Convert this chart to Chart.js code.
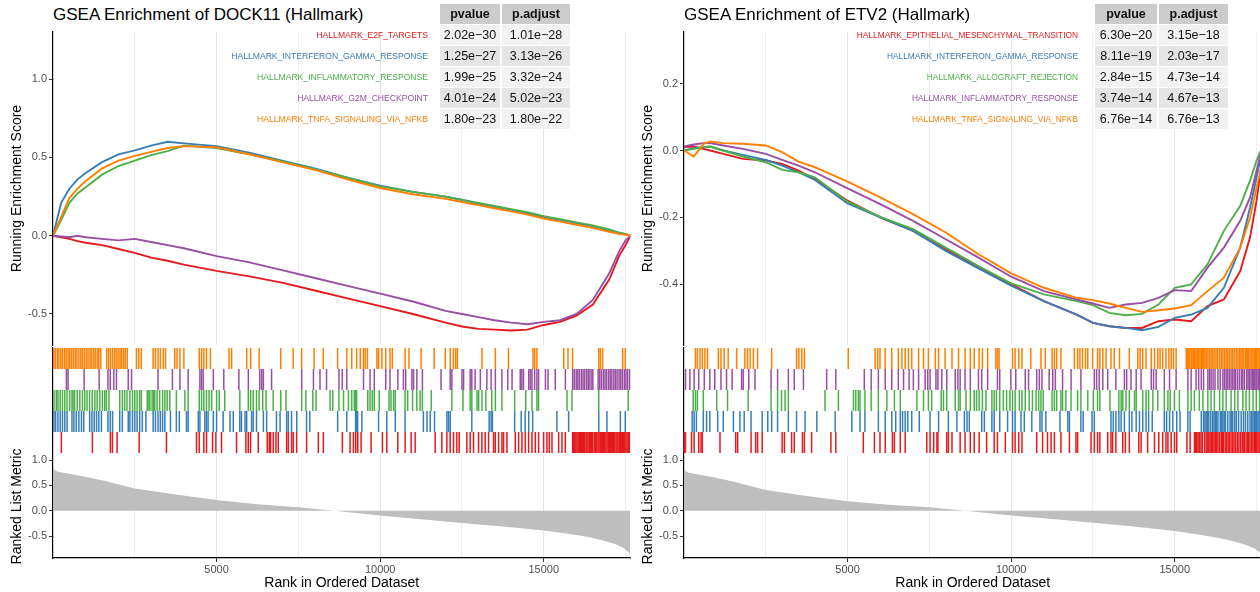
<!DOCTYPE html>
<html><head><meta charset="utf-8">
<script src="https://cdn.jsdelivr.net/npm/chart.js@4.4.1/dist/chart.umd.min.js"></script>
<style>
html,body{margin:0;padding:0;background:#fff;overflow:hidden;width:1260px;height:592px;}
body{position:relative;font-family:"Liberation Sans",Arial,sans-serif;}
.panel{position:absolute;top:0;width:632px;height:592px;}
.panel canvas{position:absolute;left:0;z-index:1;}
.ptitle{position:absolute;left:53px;top:5px;font-size:17px;color:#000;white-space:nowrap;line-height:20px;z-index:5;}
.cell{position:absolute;height:20px;line-height:20px;text-align:center;font-size:12.5px;color:#111;z-index:5;}
.hdr{background:#CCCCCC;font-weight:bold;}
.setlab{position:absolute;line-height:20px;text-align:right;white-space:nowrap;z-index:5;}
</style>
</head><body>
<div class="panel" id="pL" style="left:0px"></div>
<div class="panel" id="pR" style="left:631px"></div>
<script>
// ---------- shared ----------
const setColors = ['#E41A1C','#377EB8','#4DAF4A','#984EA3','#FF7F00'];
const xGridTicks = [2500, 5000, 7500, 10000, 12500, 15000, 17500];
const metricTicks = [-0.5, 0, 0.5, 1.0];

// ---------- LEFT PANEL (DOCK11) ----------
const leftTitle = 'GSEA Enrichment of DOCK11 (Hallmark)';
const leftSets = ['HALLMARK_E2F_TARGETS','HALLMARK_INTERFERON_GAMMA_RESPONSE','HALLMARK_INFLAMMATORY_RESPONSE','HALLMARK_G2M_CHECKPOINT','HALLMARK_TNFA_SIGNALING_VIA_NFKB'];
const leftPvalue = ['2.02e\u221230','1.25e\u221227','1.99e\u221225','4.01e\u221224','1.80e\u221223'];
const leftPadjust = ['1.01e\u221228','3.13e\u221226','3.32e\u221224','5.02e\u221223','1.80e\u221222'];
const leftEsTicks = [-0.5, 0, 0.5, 1.0];
const leftRanks = [0,250,500,750,1000,1500,2000,2500,3000,3500,4000,5000,6000,7000,8000,9000,10000,11000,12000,12500,13000,13500,14000,14500,15000,15500,16000,16500,17000,17300,17500,17650];
const leftEsE2F = [0,-0.01,-0.02,-0.035,-0.045,-0.06,-0.085,-0.11,-0.14,-0.16,-0.185,-0.225,-0.26,-0.30,-0.35,-0.40,-0.45,-0.50,-0.555,-0.58,-0.595,-0.60,-0.605,-0.60,-0.57,-0.55,-0.51,-0.44,-0.28,-0.13,-0.06,0];
const leftEsIFNG = [0,0.21,0.30,0.36,0.40,0.47,0.52,0.545,0.575,0.60,0.59,0.572,0.53,0.48,0.43,0.37,0.32,0.28,0.25,0.228,0.205,0.185,0.165,0.143,0.121,0.10,0.08,0.06,0.035,0.02,0.01,0];
const leftEsInflam = [0,0.10,0.21,0.27,0.31,0.39,0.445,0.48,0.515,0.54,0.575,0.56,0.52,0.475,0.425,0.37,0.315,0.28,0.25,0.23,0.21,0.19,0.17,0.15,0.125,0.105,0.085,0.065,0.04,0.02,0.01,0];
const leftEsG2M = [0,-0.005,-0.01,0.0,-0.01,-0.02,-0.03,-0.02,-0.04,-0.06,-0.08,-0.13,-0.17,-0.22,-0.27,-0.32,-0.37,-0.42,-0.48,-0.50,-0.52,-0.54,-0.555,-0.565,-0.55,-0.54,-0.50,-0.41,-0.24,-0.10,-0.03,0];
const leftEsTNFA = [0,0.12,0.24,0.30,0.35,0.43,0.48,0.51,0.535,0.56,0.572,0.565,0.52,0.47,0.42,0.36,0.305,0.265,0.235,0.215,0.195,0.175,0.155,0.135,0.11,0.09,0.07,0.05,0.025,0.012,0.005,0];
const leftHitsE2F = [255,1204,1754,1816,1958,2632,3468,4386,4468,4610,4692,4876,4978,5151,5610,5896,5967,6038,6273,6548,6610,6650,6732,6814,6885,7140,7191,7293,7344,7446,7752,8109,8262,8844,9079,9181,9252,9314,9416,9722,10068,10201,10538,10762,10946,11068,11680,11884,12037,12139,12241,12343,12414,12649,12751,12853,13006,13108,13210,13312,13465,13516,13618,13720,13771,13873,14128,14230,14332,14434,14536,14638,14740,14842,14995,15097,15168,15250,15454,15556,15658,15882,15910,15944,15980,16015,16050,16086,16120,16148,16180,16219,16250,16290,16320,16352,16390,16423,16460,16494,16540,16576,16620,16658,16690,16729,16760,16800,16830,16862,16900,16933,16970,17004,17040,17066,17100,17137,17170,17208,17240,17270,17310,17341,17380,17412,17440,17474,17510,17545,17580,17616];
const leftHitsIFNG = [30,80,150,220,290,360,430,580,640,710,790,870,940,1120,1190,1260,1330,1400,1480,1680,1750,1820,2040,2120,2300,2350,2430,2500,2570,2650,2730,2840,3060,3130,3210,3280,3350,3420,3590,3770,3860,4080,4130,4440,4490,4640,4690,4740,4900,5000,5200,5410,5510,5710,5760,5870,5920,6070,6120,6220,6430,6530,6830,6940,7140,7190,7290,7450,7750,7850,8700,8980,9250,9280,9310,9440,9950,10200,10460,10760,11320,11430,11530,11660,12040,12090,12140,12800,13330,13390,13430,14110,14310,14430,14540,14660,15400,15760,16680,16930,17340,17490];
const leftHitsInflam = [30,100,150,220,290,360,430,510,580,610,660,740,820,900,970,1040,1120,1200,1280,1350,1430,1510,1580,1630,1710,2040,2120,2190,2260,2350,2430,2500,2570,2650,2700,2880,2930,2960,3030,3080,3110,3180,3260,3350,3420,3490,3570,3770,4030,4130,4470,4540,4610,4690,4770,4850,5000,5080,5250,5710,5970,6040,6120,6220,6300,6410,6510,6730,6960,7120,7600,7730,7940,8040,8470,8550,8740,8880,9030,9130,9210,9250,9280,9620,9690,9760,9820,9970,10270,10330,10410,10460,10760,10840,10990,11120,11220,11290,11560,12190,12530,12750,12800,12960,13010,13110,13230,13410,13520,13720,14110,14450,14640,14790,14840,15710,15860,16680,17580];
const leftHitsG2M = [410,460,950,1410,1680,1750,1860,1940,2300,2400,3210,3650,3880,4130,4490,4540,4590,4900,5220,5680,5970,6320,6380,6430,6680,7600,7960,8160,8360,8740,8840,8980,9490,9690,9820,10170,10300,10540,10710,10780,10970,11020,11120,11290,11860,12140,12190,12500,12550,12750,12800,12900,13060,13260,13390,13520,13720,13900,14030,14280,14330,14380,14540,14590,14640,14720,14790,14840,15050,15130,15350,15660,15880,15930,15990,16040,16090,16150,16200,16250,16310,16360,16410,16470,16500,16660,16710,16760,16820,16870,16920,16980,17030,17080,17140,17190,17240,17300,17350,17400,17460,17510,17560,17620];
const leftHitsTNFA = [20,70,130,180,240,290,350,400,460,510,570,620,680,730,790,850,900,960,1020,1070,1130,1180,1240,1290,1350,1400,1460,1640,1700,1760,1820,1880,1930,1990,2050,2100,2160,2210,2270,2550,2620,2700,3060,3130,3210,3280,3370,3440,3720,3790,3880,4000,4470,4540,4610,4690,4810,5380,5460,5920,6040,6300,6960,7340,7600,7980,8260,8700,8980,9130,9280,9390,9490,9540,9610,9900,9950,10050,10170,10300,10370,10760,10880,11250,11650,11990,12140,12240,12310,12360,13110,13520,13920,14670,14720,14790,15610,15740,15880,16680,16730,16800,17410,17490];
const leftMetricRanks = [0,50,150,400,900,1500,2500,3750,5000,6250,7500,8600,10000,11250,12500,13750,15000,15750,16400,16900,17200,17450,17600,17650];
const leftMetric = [0.86,0.80,0.77,0.74,0.68,0.60,0.44,0.32,0.215,0.13,0.07,0.0,-0.09,-0.165,-0.24,-0.31,-0.39,-0.45,-0.52,-0.60,-0.66,-0.74,-0.82,-0.87];

// ---------- RIGHT PANEL (ETV2) ----------
const rightTitle = 'GSEA Enrichment of ETV2 (Hallmark)';
const rightSets = ['HALLMARK_EPITHELIAL_MESENCHYMAL_TRANSITION','HALLMARK_INTERFERON_GAMMA_RESPONSE','HALLMARK_ALLOGRAFT_REJECTION','HALLMARK_INFLAMMATORY_RESPONSE','HALLMARK_TNFA_SIGNALING_VIA_NFKB'];
const rightPvalue = ['6.30e\u221220','8.11e\u221219','2.84e\u221215','3.74e\u221214','6.76e\u221214'];
const rightPadjust = ['3.15e\u221218','2.03e\u221217','4.73e\u221214','4.67e\u221213','6.76e\u221213'];
const rightEsTicks = [-0.4, -0.2, 0, 0.2];
const rightRanks = [0,300,600,800,1200,1800,2500,3000,3500,4000,5000,6000,7000,8000,9000,10000,11000,12000,12500,13000,13500,14000,14500,15000,15500,16000,16500,17000,17300,17500,17650];
const rightEsEMT = [0.01,0.012,0.005,0.0,-0.01,-0.025,-0.03,-0.04,-0.06,-0.085,-0.15,-0.20,-0.24,-0.295,-0.35,-0.40,-0.45,-0.49,-0.515,-0.525,-0.53,-0.53,-0.51,-0.505,-0.51,-0.465,-0.445,-0.36,-0.26,-0.15,-0.04];
const rightEsIFNG = [0.0,0.007,0.01,0.012,0.0,-0.013,-0.028,-0.045,-0.065,-0.088,-0.158,-0.20,-0.24,-0.30,-0.352,-0.404,-0.45,-0.49,-0.515,-0.525,-0.53,-0.537,-0.527,-0.50,-0.49,-0.47,-0.41,-0.29,-0.17,-0.08,-0.01];
const rightEsAllo = [0.0,0.005,0.01,0.012,0.0,-0.018,-0.035,-0.058,-0.065,-0.08,-0.153,-0.198,-0.235,-0.29,-0.345,-0.397,-0.43,-0.45,-0.462,-0.485,-0.492,-0.488,-0.46,-0.41,-0.40,-0.34,-0.24,-0.165,-0.09,-0.03,0.005];
const rightEsInflam = [0.012,0.018,0.022,0.022,0.015,0.005,-0.01,-0.028,-0.045,-0.065,-0.113,-0.16,-0.21,-0.265,-0.32,-0.377,-0.42,-0.445,-0.457,-0.47,-0.46,-0.455,-0.44,-0.417,-0.42,-0.35,-0.29,-0.21,-0.14,-0.06,0.0];
const rightEsTNFA = [0.0,-0.018,0.02,0.027,0.022,0.02,0.015,-0.005,-0.033,-0.05,-0.093,-0.14,-0.19,-0.245,-0.31,-0.367,-0.41,-0.44,-0.447,-0.457,-0.47,-0.482,-0.477,-0.472,-0.462,-0.42,-0.38,-0.29,-0.2,-0.11,-0.05];
const rightHitsEMT = [5,46,230,310,450,520,560,1100,1580,1640,2050,2190,2250,2390,3000,3070,3290,3370,3620,3680,3900,4490,4640,5480,5820,5990,6150,6370,6430,6610,6760,7420,7520,7630,7730,7760,8030,8080,8190,8440,8590,8750,8870,9020,9250,9480,9580,9820,10040,10120,10230,10330,10780,10960,11110,11220,11320,11520,11780,11980,12030,12440,12540,12640,12710,12950,13050,13100,13200,13410,13490,13610,13900,13970,14170,14380,14510,14630,14730,14790,14890,14990,15060,15370,15470,15600,15640,15670,15710,15750,15800,15840,15910,15960,16010,16040,16080,16120,16160,16200,16240,16280,16320,16370,16420,16450,16490,16540,16590,16630,16670,16720,16770,16810,16860,16910,16960,17010,17060,17090,17130,17180,17230,17260,17300,17350,17390,17430,17470,17500,17540,17580,17610];
const rightHitsIFNG = [250,310,380,590,690,790,1030,1200,1510,1710,1840,2050,2390,2560,2680,2860,3190,3440,3700,4060,4620,5130,5380,5530,5940,6150,6350,6470,6610,6680,6760,6840,6960,7190,7520,7780,8080,8340,8570,8650,8720,9100,9180,9410,9480,9650,9890,10040,10120,10300,10400,10630,10880,10940,11060,11490,11730,11780,12130,12200,12470,12540,13050,13120,13200,13290,13360,13460,13610,13690,13820,13920,14020,14120,14200,14310,14680,14750,14840,14940,15060,15160,15400,15470,15810,15880,15920,15960,16000,16040,16100,16160,16200,16240,16280,16320,16390,16430,16470,16510,16550,16620,16690,16730,16770,16830,16880,16950,17030,17100,17160,17230,17300,17350,17390,17430,17470,17500,17540,17580,17610];
const rightHitsAllo = [280,350,410,590,1000,1330,1960,2660,2860,2980,3090,3190,4310,4720,5180,5250,5330,5380,5530,5720,5940,6200,6430,6610,7120,7320,7470,7570,7860,7930,8030,8290,8390,8440,8620,8750,8870,8940,9020,9120,9230,9410,9480,9550,9650,9760,9860,9960,10040,10120,10250,10330,10430,10550,10650,10760,10840,10910,10980,11250,11320,11390,11520,11570,11670,11830,12030,12130,12340,12510,12640,12710,13020,13290,13360,13410,13510,13610,13770,13820,14020,14120,14200,14330,14480,14680,14790,14860,14990,15140,15400,15500,15600,15750,15860,16010,16110,16210,16370,16470,16570,16720,16830,16930,17080,17180,17280,17390,17490,17590];
const rightHitsInflam = [46,180,310,450,620,790,940,1130,1300,1470,1760,1810,1980,2170,2660,2860,3190,3370,3650,4360,4640,5510,5720,5940,6150,6350,6550,6710,6880,7010,7170,7370,7450,7520,7700,7760,7880,8030,8290,8370,8440,8590,8750,9000,9100,9280,9580,9650,9990,10140,10430,10530,10780,10860,10940,11160,11270,11350,11570,11830,12130,12540,12610,12690,12800,12950,13200,13460,13530,13660,13820,13970,14280,14350,14430,14680,14840,15040,15400,15500,15650,15730,15810,15880,16010,16060,16110,16170,16230,16320,16390,16470,16520,16570,16620,16670,16720,16770,16820,16860,16920,16980,17040,17080,17130,17200,17240,17280,17330,17370,17400,17440,17480,17510,17550,17590];
const rightHitsTNFA = [350,410,490,560,640,720,1050,1130,1230,1350,1610,1860,1940,2020,2120,2250,2680,3440,3510,3600,3680,5020,5840,5920,5990,6150,6350,6550,6660,6760,6860,6960,7170,7320,7470,7680,7780,7980,8190,8390,8590,8750,8870,9020,9120,9280,9530,9580,9630,10040,10120,10230,10330,10600,10910,11040,11250,11320,11390,11520,11930,12030,12100,12180,12270,12340,12490,12640,12710,12800,12900,13050,13150,13310,13610,13870,13940,14020,14120,14280,14380,14480,14550,14630,14730,14820,14890,14960,15040,15350,15390,15430,15460,15500,15530,15570,15610,15650,15690,15730,15770,15810,15840,15880,15920,15960,16010,16060,16110,16160,16210,16260,16310,16370,16420,16470,16520,16570,16620,16670,16720,16770,16820,16880,16930,16980,17020,17060,17110,17160,17200,17230,17260,17300,17350,17390,17430,17470,17500,17540,17580,17610];
const rightMetricRanks = [0,50,150,400,900,1500,2500,3750,5000,6250,7500,8600,10000,11250,12500,13750,15000,15750,16400,16900,17200,17450,17600,17650];
const rightMetric = [0.84,0.78,0.75,0.72,0.66,0.58,0.41,0.29,0.19,0.12,0.07,0.0,-0.09,-0.16,-0.235,-0.31,-0.40,-0.47,-0.54,-0.62,-0.68,-0.75,-0.82,-0.85];

// ---------- builder ----------
const FONT = '"Liberation Sans", Arial, sans-serif';
Chart.defaults.font.family = FONT;
const N_MAX = 17650;
const gridCol = c => (c.tick && c.tick.value % 5000 === 0) ? '#E6E6E6' : '#EFEFEF';
function zeroPad(s) { s.paddingTop = 0; s.paddingBottom = 0; s.paddingLeft = 0; s.paddingRight = 0; }

function pts(xs, ys) { return xs.map((x, i) => ({x: x, y: ys[i]})); }
function mkCanvas(panel, top, h) {
  const c = document.createElement('canvas');
  c.width = 632; c.height = h;
  c.style.top = top + 'px'; c.style.width = '632px'; c.style.height = h + 'px';
  panel.appendChild(c);
  return c;
}
function yAxisBase(title, ticks, min, max) {
  return {
    type: 'linear', min: min, max: max,
    afterBuildTicks: s => { s.ticks = ticks.map(v => ({value: v})); },
    afterFit: s => { s.width = 53; zeroPad(s); },
    ticks: {callback: v => (Math.abs(v) < 1e-9 ? 0 : v).toFixed(1), font: {size: 11}, color: '#4D4D4D', padding: 2, autoSkip: false},
    grid: {drawOnChartArea: false, drawTicks: true, tickLength: 4, tickColor: '#333333', tickWidth: 1},
    border: {display: true, color: '#000000', width: 1.2},
    title: {display: !!title, text: title, font: {size: 14}, color: '#000', padding: {top: 9, bottom: 0}}
  };
}

function buildPanel(id, cfg) {
  const panel = document.getElementById(id);
  const t = document.createElement('div');
  t.className = 'ptitle'; t.textContent = cfg.title; panel.appendChild(t);

  const hdr = ['pvalue', 'p.adjust'];
  hdr.forEach((h, j) => {
    const d = document.createElement('div');
    d.className = 'cell hdr'; d.textContent = h;
    d.style.left = cfg.colX[j] + 'px'; d.style.width = cfg.colW[j] + 'px'; d.style.top = '4px';
    panel.appendChild(d);
  });
  cfg.sets.forEach((s, i) => {
    const top = 25 + 21 * i;
    const bg = (i % 2 === 0) ? '#F2F2F2' : '#E5E5E5';
    [cfg.pvalue[i], cfg.padjust[i]].forEach((v, j) => {
      const d = document.createElement('div');
      d.className = 'cell'; d.textContent = v; d.style.background = bg;
      d.style.left = cfg.colX[j] + 'px'; d.style.width = cfg.colW[j] + 'px'; d.style.top = top + 'px';
      panel.appendChild(d);
    });
    const l = document.createElement('div');
    l.className = 'setlab'; l.textContent = s; l.style.color = setColors[i];
    l.style.fontSize = cfg.labelSize + 'px';
    l.style.right = (632 - cfg.labelRight) + 'px'; l.style.top = top + 'px';
    panel.appendChild(l);
  });

  const common = {
    responsive: false, animation: false, events: [],
    plugins: {legend: {display: false}, tooltip: {enabled: false}}
  };

  // ES plot
  const c1 = mkCanvas(panel, 30, 316);
  new Chart(c1, {
    type: 'line',
    data: {datasets: cfg.es.map((ys, i) => ({
      data: pts(cfg.ranks, ys), borderColor: setColors[i], borderWidth: 1.9,
      pointRadius: 0, fill: false, tension: 0, order: 4 - i
    }))},
    options: Object.assign({}, common, {
      layout: {autoPadding: false, padding: {top: 2, bottom: 1, left: 0, right: 1.5}},
      scales: {
        x: {type: 'linear', min: 0, max: N_MAX,
            afterBuildTicks: s => { s.ticks = xGridTicks.map(v => ({value: v})); },
            afterFit: s => { s.height = 0; zeroPad(s); },
            ticks: {display: false}, grid: {drawTicks: false, color: gridCol, lineWidth: 1},
            border: {display: false}},
        y: yAxisBase('Running Enrichment Score', cfg.esTicks, cfg.esMin, cfg.esMax)
      }
    })
  });

  // rug plot
  const c2 = mkCanvas(panel, 346, 108);
  new Chart(c2, {
    type: 'scatter',
    data: {datasets: cfg.hits.map((h, i) => ({
      data: h.map(x => ({x: x, y: i + 0.5})),
      pointStyle: 'line', pointRotation: 90, pointRadius: 10.5, pointHoverRadius: 10.5,
      pointBorderWidth: 1.5, pointBorderColor: setColors[i], pointBackgroundColor: setColors[i],
      showLine: false, clip: false
    }))},
    options: Object.assign({}, common, {
      layout: {autoPadding: false, padding: {top: 2, bottom: 1, left: 0, right: 1.5}},
      scales: {
        x: {type: 'linear', min: 0, max: N_MAX, display: false},
        y: {type: 'linear', min: 0, max: 5, afterFit: s => { s.width = 53; zeroPad(s); },
            ticks: {display: false}, grid: {display: false},
            border: {display: true, color: '#000000', width: 1.2}}
      }
    })
  });

  // ranked list metric (canvas starts higher so the rotated title is not clipped)
  const c3 = mkCanvas(panel, 438, 154);
  new Chart(c3, {
    type: 'line',
    data: {datasets: [{
      data: pts(cfg.metricRanks, cfg.metric), borderWidth: 0, borderColor: 'rgba(0,0,0,0)',
      backgroundColor: '#BEBEBE', fill: 'origin', pointRadius: 0, tension: 0
    }]},
    options: Object.assign({}, common, {
      layout: {autoPadding: false, padding: {top: 17, bottom: 0, left: 0, right: 1.5}},
      scales: {
        x: {type: 'linear', min: 0, max: N_MAX,
            afterBuildTicks: s => { s.ticks = xGridTicks.map(v => ({value: v})); },
            afterFit: s => { s.height = 34; zeroPad(s); },
            ticks: {autoSkip: false, maxRotation: 0, font: {size: 11}, color: '#4D4D4D', padding: 1,
                    callback: v => (v % 5000 === 0 ? String(v) : '')},
            grid: {color: gridCol, lineWidth: 1, drawTicks: true, tickLength: 4,
                   tickColor: c => (c.tick && c.tick.value % 5000 === 0) ? '#333333' : 'rgba(0,0,0,0)'},
            border: {display: true, color: '#000000', width: 1.2},
            title: {display: true, text: 'Rank in Ordered Dataset', font: {size: 14}, color: '#000', padding: {top: 0, bottom: 0}}},
        y: yAxisBase('Ranked List Metric', metricTicks, -0.93, 1.1)
      }
    })
  });
}

buildPanel('pL', {
  title: leftTitle, sets: leftSets, pvalue: leftPvalue, padjust: leftPadjust,
  colX: [440, 502], colW: [60, 68], labelRight: 428, labelSize: 8.6,
  ranks: leftRanks, es: [leftEsE2F, leftEsIFNG, leftEsInflam, leftEsG2M, leftEsTNFA],
  esTicks: leftEsTicks, esMin: -0.698, esMax: 1.301,
  hits: [leftHitsE2F, leftHitsIFNG, leftHitsInflam, leftHitsG2M, leftHitsTNFA],
  metricRanks: leftMetricRanks, metric: leftMetric
});
buildPanel('pR', {
  title: rightTitle, sets: rightSets, pvalue: rightPvalue, padjust: rightPadjust,
  colX: [464, 528], colW: [62, 69], labelRight: 447, labelSize: 8.35,
  ranks: rightRanks, es: [rightEsEMT, rightEsIFNG, rightEsAllo, rightEsInflam, rightEsTNFA],
  esTicks: rightEsTicks, esMin: -0.581, esMax: 0.354,
  hits: [rightHitsEMT, rightHitsIFNG, rightHitsAllo, rightHitsInflam, rightHitsTNFA],
  metricRanks: rightMetricRanks, metric: rightMetric
});
</script>
</body></html>
